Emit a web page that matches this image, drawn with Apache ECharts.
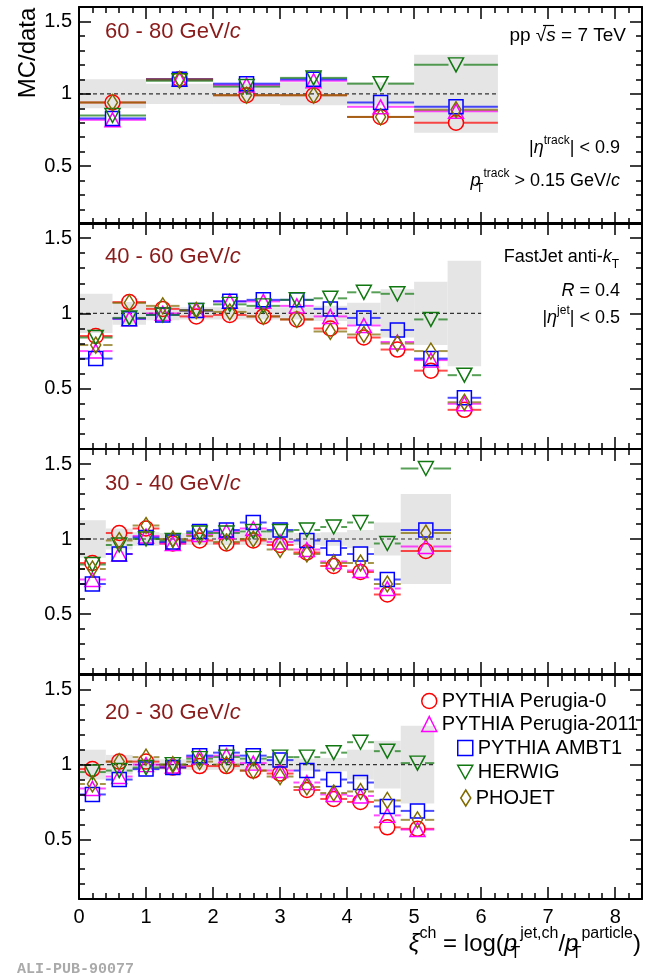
<!DOCTYPE html>
<html><head><meta charset="utf-8">
<script src="https://cdn.jsdelivr.net/npm/echarts@6/dist/echarts.min.js"></script>
<style>html,body{margin:0;padding:0;background:#fff}#c{width:645px;height:975px}</style>
</head><body><div id="c"></div>
<script>
// ---------------- data ----------------
const models = ['PYTHIA Perugia-0', 'PYTHIA Perugia-2011', 'PYTHIA AMBT1', 'HERWIG', 'PHOJET'];
const panelTitles = ['60 - 80 GeV/', '40 - 60 GeV/', '30 - 40 GeV/', '20 - 30 GeV/'];
const refValue = 1;
const yMajorTicks = [0.5, 1, 1.5];
const xMajorTicks = [0, 1, 2, 3, 4, 5, 6, 7, 8];

// 60 - 80 GeV/c
const edges_60_80 = [0, 1, 2, 3, 4, 5, 6.25];
const sys_60_80 = [0.10, 0.07, 0.07, 0.08, 0.08, 0.27];
const p0_60_80 = [0.94, 1.10, 0.99, 0.99, 0.84, 0.80];
const p11_60_80 = [0.82, 1.10, 1.06, 1.09, 0.91, 0.88];
const ambt1_60_80 = [0.83, 1.10, 1.07, 1.10, 0.94, 0.91];
const herwig_60_80 = [0.85, 1.09, 1.05, 1.11, 1.07, 1.20];
const phojet_60_80 = [0.94, 1.10, 0.99, 0.99, 0.84, 0.89];

// 40 - 60 GeV/c
const edges_40_60 = [0, 0.5, 1, 1.5, 2, 2.5, 3, 3.5, 4, 4.5, 5, 5.5, 6];
const sys_40_60 = [0.13, 0.075, 0.045, 0.04, 0.04, 0.04, 0.04, 0.05, 0.07, 0.16, 0.21, 0.35];
const p0_40_60 = [0.85, 1.075, 1.03, 0.98, 0.99, 0.98, 0.96, 0.90, 0.84, 0.76, 0.62, 0.36];
const p11_40_60 = [0.75, 0.965, 1.00, 1.02, 1.08, 1.08, 1.05, 0.98, 0.92, 0.81, 0.69, 0.40];
const ambt1_40_60 = [0.70, 0.965, 0.99, 1.02, 1.08, 1.09, 1.09, 1.03, 0.97, 0.89, 0.70, 0.44];
const herwig_40_60 = [0.84, 0.97, 0.99, 1.02, 1.06, 1.05, 1.09, 1.10, 1.14, 1.13, 0.96, 0.59];
const phojet_40_60 = [0.79, 1.07, 1.05, 1.02, 1.01, 0.98, 0.96, 0.88, 0.86, 0.80, 0.75, 0.41];

// 30 - 40 GeV/c
const edges_30_40 = [0, 0.4, 0.8, 1.2, 1.6, 2.0, 2.4, 2.8, 3.2, 3.6, 4.0, 4.4, 4.8, 5.55];
const sys_30_40 = [0.125, 0.07, 0.045, 0.04, 0.04, 0.04, 0.04, 0.04, 0.04, 0.045, 0.06, 0.11, 0.30];
const p0_30_40 = [0.84, 1.04, 1.07, 0.97, 0.99, 0.97, 0.99, 0.96, 0.91, 0.82, 0.78, 0.63, 0.92];
const p11_30_40 = [0.73, 0.90, 1.02, 0.97, 1.03, 1.05, 1.07, 0.98, 0.93, 0.85, 0.79, 0.67, 0.95];
const ambt1_30_40 = [0.70, 0.90, 1.01, 0.98, 1.05, 1.06, 1.11, 1.06, 0.99, 0.94, 0.90, 0.73, 1.06];
const herwig_30_40 = [0.83, 0.96, 1.00, 0.99, 1.04, 1.04, 1.05, 1.05, 1.06, 1.08, 1.11, 0.97, 1.47];
const phojet_30_40 = [0.80, 0.99, 1.09, 1.00, 1.02, 0.98, 1.00, 0.93, 0.90, 0.84, 0.84, 0.70, 1.04];

// 20 - 30 GeV/c
const edges_20_30 = [0, 0.4, 0.8, 1.2, 1.6, 2.0, 2.4, 2.8, 3.2, 3.6, 4.0, 4.4, 4.8, 5.3];
const sys_20_30 = [0.10, 0.065, 0.04, 0.035, 0.035, 0.035, 0.035, 0.035, 0.04, 0.045, 0.10, 0.16, 0.26];
const p0_20_30 = [0.97, 1.02, 1.02, 0.98, 0.99, 0.99, 0.96, 0.94, 0.83, 0.77, 0.75, 0.58, 0.57];
const p11_20_30 = [0.84, 0.92, 1.00, 0.99, 1.05, 1.06, 1.01, 0.96, 0.88, 0.80, 0.79, 0.66, 0.565];
const ambt1_20_30 = [0.80, 0.90, 0.97, 0.98, 1.06, 1.08, 1.06, 1.03, 0.96, 0.90, 0.88, 0.72, 0.69];
const herwig_20_30 = [0.95, 0.96, 0.98, 1.00, 1.04, 1.05, 1.04, 1.05, 1.05, 1.08, 1.15, 1.09, 1.01];
const phojet_20_30 = [0.87, 1.02, 1.05, 1.00, 1.02, 1.00, 0.96, 0.92, 0.85, 0.81, 0.82, 0.76, 0.63];

// ---------------- styling / layout ----------------
const FONT = '"Liberation Sans", Arial, Helvetica, sans-serif';
const colors = ['#ff0000', '#ff00ff', '#0000ff', '#117711', '#7f6a00'];
const symbols = ['circle', 'triangle', 'rect', 'path://M0,0L20,0L10,18Z', 'diamond'];
const symbolSizes = [15, [15, 14], 14, [15, 14], [10, 16]];

const panels = [
  {edges: edges_60_80, sys: sys_60_80, vals: [p0_60_80, p11_60_80, ambt1_60_80, herwig_60_80, phojet_60_80]},
  {edges: edges_40_60, sys: sys_40_60, vals: [p0_40_60, p11_40_60, ambt1_40_60, herwig_40_60, phojet_40_60]},
  {edges: edges_30_40, sys: sys_30_40, vals: [p0_30_40, p11_30_40, ambt1_30_40, herwig_30_40, phojet_30_40]},
  {edges: edges_20_30, sys: sys_20_30, vals: [p0_20_30, p11_20_30, ambt1_20_30, herwig_20_30, phojet_20_30]}
];

const gridTops = [7, 223, 449, 675];
const gridHeights = [217, 226, 225, 224];
const XMIN = 0, XMAX = 8.4, YMIN = 0.1, YMAX = 1.6;

const grids = [], xAxes = [], yAxes = [], series = [];
const tickStyle = {color: '#000', width: 1.5};

for (let g = 0; g < 4; g++) {
  grids.push({left: 79, right: 3, top: gridTops[g], height: gridHeights[g], containLabel: false});
  ['bottom', 'top'].forEach(pos => {
    xAxes.push({
      gridIndex: g, type: 'value', position: pos, min: XMIN, max: XMAX, z: 10,
      axisLine: {show: true, onZero: false, lineStyle: {color: '#000', width: 2}},
      axisTick: {show: true, inside: true, length: 12, lineStyle: tickStyle, customValues: xMajorTicks},
      axisLabel: {show: pos === 'bottom' && g === 3, customValues: xMajorTicks, fontSize: 20, fontFamily: FONT, color: '#000', margin: 8},
      splitLine: {show: false}
    });
    xAxes.push({
      gridIndex: g, type: 'value', position: pos, min: XMIN, max: XMAX, interval: 0.2, z: 10,
      axisLine: {show: false, onZero: false},
      axisTick: {show: true, inside: true, length: 6, lineStyle: tickStyle},
      axisLabel: {show: false},
      splitLine: {show: false}
    });
  });
  ['left', 'right'].forEach(pos => {
    yAxes.push({
      gridIndex: g, type: 'value', position: pos, min: YMIN, max: YMAX, z: 10,
      axisLine: {show: true, onZero: false, lineStyle: {color: '#000', width: 2}},
      axisTick: {show: true, inside: true, length: 12, lineStyle: tickStyle, customValues: yMajorTicks},
      axisLabel: {show: pos === 'left', customValues: yMajorTicks, fontSize: 20, fontFamily: FONT, color: '#000', margin: 7,
        formatter: v => String(+v.toFixed(2))},
      splitLine: {show: false}
    });
    yAxes.push({
      gridIndex: g, type: 'value', position: pos, min: YMIN, max: YMAX, interval: 0.1, z: 10,
      axisLine: {show: false, onZero: false},
      axisTick: {show: true, inside: true, length: 6, lineStyle: tickStyle},
      axisLabel: {show: false},
      splitLine: {show: false}
    });
  });

  const P = panels[g];
  const xi = 4 * g, yi = 4 * g;
  const bins = P.edges.slice(0, -1).map((e, i) => [e, P.edges[i + 1]]);

  series.push({
    type: 'custom', name: 'sys' + g, xAxisIndex: xi, yAxisIndex: yi, z: 1, silent: true,
    data: bins.map((b, i) => [b[0], b[1], refValue - P.sys[i], refValue + P.sys[i]]),
    encode: {x: [0, 1], y: [2, 3]},
    renderItem: (params, api) => {
      const a = api.coord([api.value(0), api.value(3)]);
      const b = api.coord([api.value(1), api.value(2)]);
      return {type: 'rect', shape: {x: a[0], y: a[1], width: b[0] - a[0], height: b[1] - a[1]}, style: {fill: '#e5e5e5'}};
    }
  });
  series.push({
    type: 'line', name: 'ref' + g, xAxisIndex: xi, yAxisIndex: yi, z: 2, silent: true, symbol: 'none',
    data: [[P.edges[0], refValue], [P.edges[P.edges.length - 1], refValue]],
    lineStyle: {color: '#333', width: 1.2, type: [4, 3]}
  });
  models.forEach((m, k) => {
    const col = colors[k];
    series.push({
      type: 'custom', name: m + ' bins ' + g, xAxisIndex: xi, yAxisIndex: yi, z: 3, silent: true,
      data: bins.map((b, i) => [b[0], b[1], P.vals[k][i]]),
      encode: {x: [0, 1], y: 2},
      renderItem: (params, api) => {
        const a = api.coord([api.value(0), api.value(2)]);
        const b = api.coord([api.value(1), api.value(2)]);
        const cx = (a[0] + b[0]) / 2, gap = 7.5;
        const st = {stroke: col, lineWidth: 2, opacity: 0.7};
        return {type: 'group', children: [
          {type: 'line', shape: {x1: a[0], y1: a[1], x2: cx - gap, y2: a[1]}, style: st},
          {type: 'line', shape: {x1: cx + gap, y1: a[1], x2: b[0], y2: a[1]}, style: st}
        ]};
      }
    });
  });
  models.forEach((m, k) => {
    series.push({
      type: 'scatter', name: m, xAxisIndex: xi, yAxisIndex: yi, z: 4,
      symbol: symbols[k], symbolSize: symbolSizes[k],
      itemStyle: {color: 'rgba(0,0,0,0)', borderColor: colors[k], borderWidth: 1.5, opacity: 1},
      emphasis: {disabled: true},
      data: bins.map((b, i) => [(b[0] + b[1]) / 2, P.vals[k][i]])
    });
  });
}

const legendPos = [[421, 691], [421, 714], [457, 738], [457, 762], [460, 788]];
const legends = models.map((m, k) => ({
  left: legendPos[k][0], top: legendPos[k][1], padding: 0, selectedMode: false,
  itemWidth: k === 4 ? 10 : 15, itemHeight: k === 4 ? 16 : 15,
  textStyle: {fontSize: 20, fontFamily: FONT, color: '#000'},
  data: [{name: m, icon: symbols[k], itemStyle: {color: 'rgba(0,0,0,0)', borderColor: colors[k], borderWidth: 1.5}}]
}));

const titleColor = '#8b1a1a';
const titleY = [32, 257, 484, 713];
const graphics = [];
graphics.push({type: 'text', x: 28, y: 53, rotation: Math.PI / 2, z: 20,
  style: {text: 'MC/data', fontSize: 24, fontFamily: FONT, fill: '#000', align: 'center', verticalAlign: 'middle'}});
panelTitles.forEach((t, g) => {
  graphics.push({type: 'text', x: 105, y: titleY[g], z: 20, style: {
    text: '{n|' + t + '}{i|c}', verticalAlign: 'middle',
    rich: {n: {fontSize: 22, fontFamily: FONT, fill: titleColor}, i: {fontSize: 22, fontFamily: FONT, fontStyle: 'italic', fill: titleColor}}
  }});
});
function rt(fs) {
  const s = Math.round(fs * 0.65);
  const lh = Math.round(fs * 1.5);
  return {
    n: {fontSize: fs, fontFamily: FONT, fill: '#000', lineHeight: lh, verticalAlign: 'middle'},
    i: {fontSize: fs, fontFamily: FONT, fontStyle: 'italic', fill: '#000', lineHeight: lh, verticalAlign: 'middle'},
    sup: {fontSize: s, fontFamily: FONT, fill: '#000', lineHeight: Math.round(fs * 0.72), verticalAlign: 'top'},
    sub: {fontSize: s, fontFamily: FONT, fill: '#000', lineHeight: Math.round(fs * 0.3), verticalAlign: 'bottom'},
    subw: {fontSize: s, fontFamily: FONT, fill: '#000', lineHeight: Math.round(fs * 0.25), verticalAlign: 'bottom', width: 1, padding: [0, 0, 0, 2]}
  };
}
function addText(x, y, text, fs) {
  graphics.push({type: 'text', x: x, y: y, z: 20, style: {text: text, rich: rt(fs), align: 'right', verticalAlign: 'middle'}});
}
addText(626, 36, '{n|pp \u221A}{i|s}{n| = 7 TeV}', 19);
graphics.push({type: 'line', z: 20, shape: {x1: 543, y1: 25.5, x2: 554, y2: 25.5}, style: {stroke: '#000', lineWidth: 1.2}});
addText(620, 148, '{n|\u007C}{i|\u03B7}{sup|track}{n|\u007C < 0.9}', 18);
addText(620, 181, '{i|p}{subw|T}{sup|track}{n| > 0.15 GeV/}{i|c}', 18);
addText(619, 257, '{n|FastJet anti-}{i|k}{sub|T}', 18);
addText(620, 291, '{i|R}{n| = 0.4}', 18);
addText(620, 318, '{n|\u007C}{i|\u03B7}{sup|jet}{n|\u007C < 0.5}', 18);
addText(641, 944, '{i|\u03BE}{sup|ch}{n| = log(}{i|p}{subw|T}{sup|jet,ch}{n|/}{i|p}{subw|T}{sup|particle}{n|)}', 24);
graphics.push({type: 'text', x: 17, y: 969, z: 20, style: {text: 'ALI-PUB-90077', fontSize: 15, fontWeight: 'bold',
  fontFamily: '"Liberation Mono", "DejaVu Sans Mono", monospace', fill: '#aaaaaa', verticalAlign: 'middle'}});

const chart = echarts.init(document.getElementById('c'), null, {renderer: 'canvas', width: 645, height: 975});
chart.setOption({
  animation: false, backgroundColor: '#fff',
  grid: grids, xAxis: xAxes, yAxis: yAxes, series: series, legend: legends, graphic: graphics
});
</script></body></html>
